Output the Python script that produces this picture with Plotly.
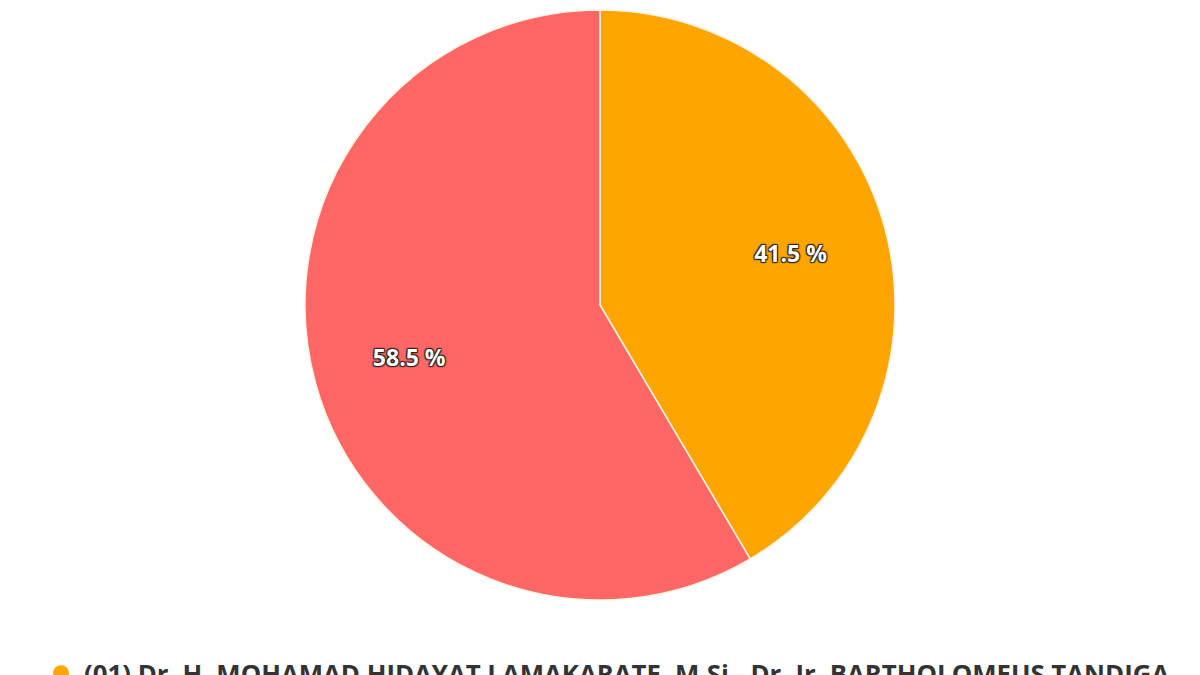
import plotly.graph_objects as go

# Pilgub Sulteng 2020 - vote share
# (first name wraps after "TANDIGA" in the original legend)
candidates = [
    "(01) Dr. H. MOHAMAD HIDAYAT LAMAKARATE, M.Si - Dr. Ir. BARTHOLOMEUS TANDIGA<br>LA, MM",
    "(02) Drs. H. RUSDY MASTURA - Dr. H. MA'MUN AMIR",
]
shares = [41.5, 58.5]
colors = ["#FFA500", "#FF6666"]
labels_text = ["41.5 %", "58.5 %"]

# page body has an 8px margin, so the domain is nudged up/left by that much
pie_domain = dict(x=[297 / 1200, 887 / 1200], y=[1 - 592 / 675, 1 - 2 / 675])

fig = go.Figure()

# the slices
fig.add_trace(go.Pie(
    labels=candidates,
    values=shares,
    textinfo="none",
    sort=False,
    direction="clockwise",
    rotation=0,
    marker=dict(colors=colors, line=dict(color="#FFF4E0", width=1.5)),
    showlegend=False,
    hoverinfo="label+percent",
    domain=pie_domain,
))

# transparent ring on top, only to push the % labels further out
fig.add_trace(go.Pie(
    labels=candidates,
    values=shares,
    text=labels_text,
    textinfo="text",
    textposition="inside",
    insidetextorientation="horizontal",
    hole=0.34,
    sort=False,
    direction="clockwise",
    rotation=0,
    marker=dict(colors=["rgba(0,0,0,0)"] * 2, line=dict(width=0)),
    textfont=dict(family="Open Sans", size=23, color="white", weight="bold",
                  shadow="1px 1px 1px #222, -1px -1px 1px #222, 1px -1px 1px #222, -1px 1px 1px #222"),
    showlegend=False,
    hoverinfo="skip",
    domain=pie_domain,
))

# legend entries with round markers
for name, col in zip(candidates, colors):
    fig.add_trace(go.Scatter(
        x=[None], y=[None], mode="markers", name=name,
        marker=dict(symbol="circle", size=24, color=col),
    ))

fig.update_layout(
    width=1200, height=675,
    margin=dict(l=0, r=0, t=0, b=0, autoexpand=False),
    paper_bgcolor="white", plot_bgcolor="white",
    xaxis=dict(visible=False), yaxis=dict(visible=False),
    legend=dict(
        orientation="h", x=0.025, xanchor="left", y=1 - 642 / 675, yanchor="top",
        font=dict(family="Open Sans", size=25.8, color="#333333", weight="bold"),
        itemwidth=36, valign="top",
    ),
)

fig.write_html("out.html")
